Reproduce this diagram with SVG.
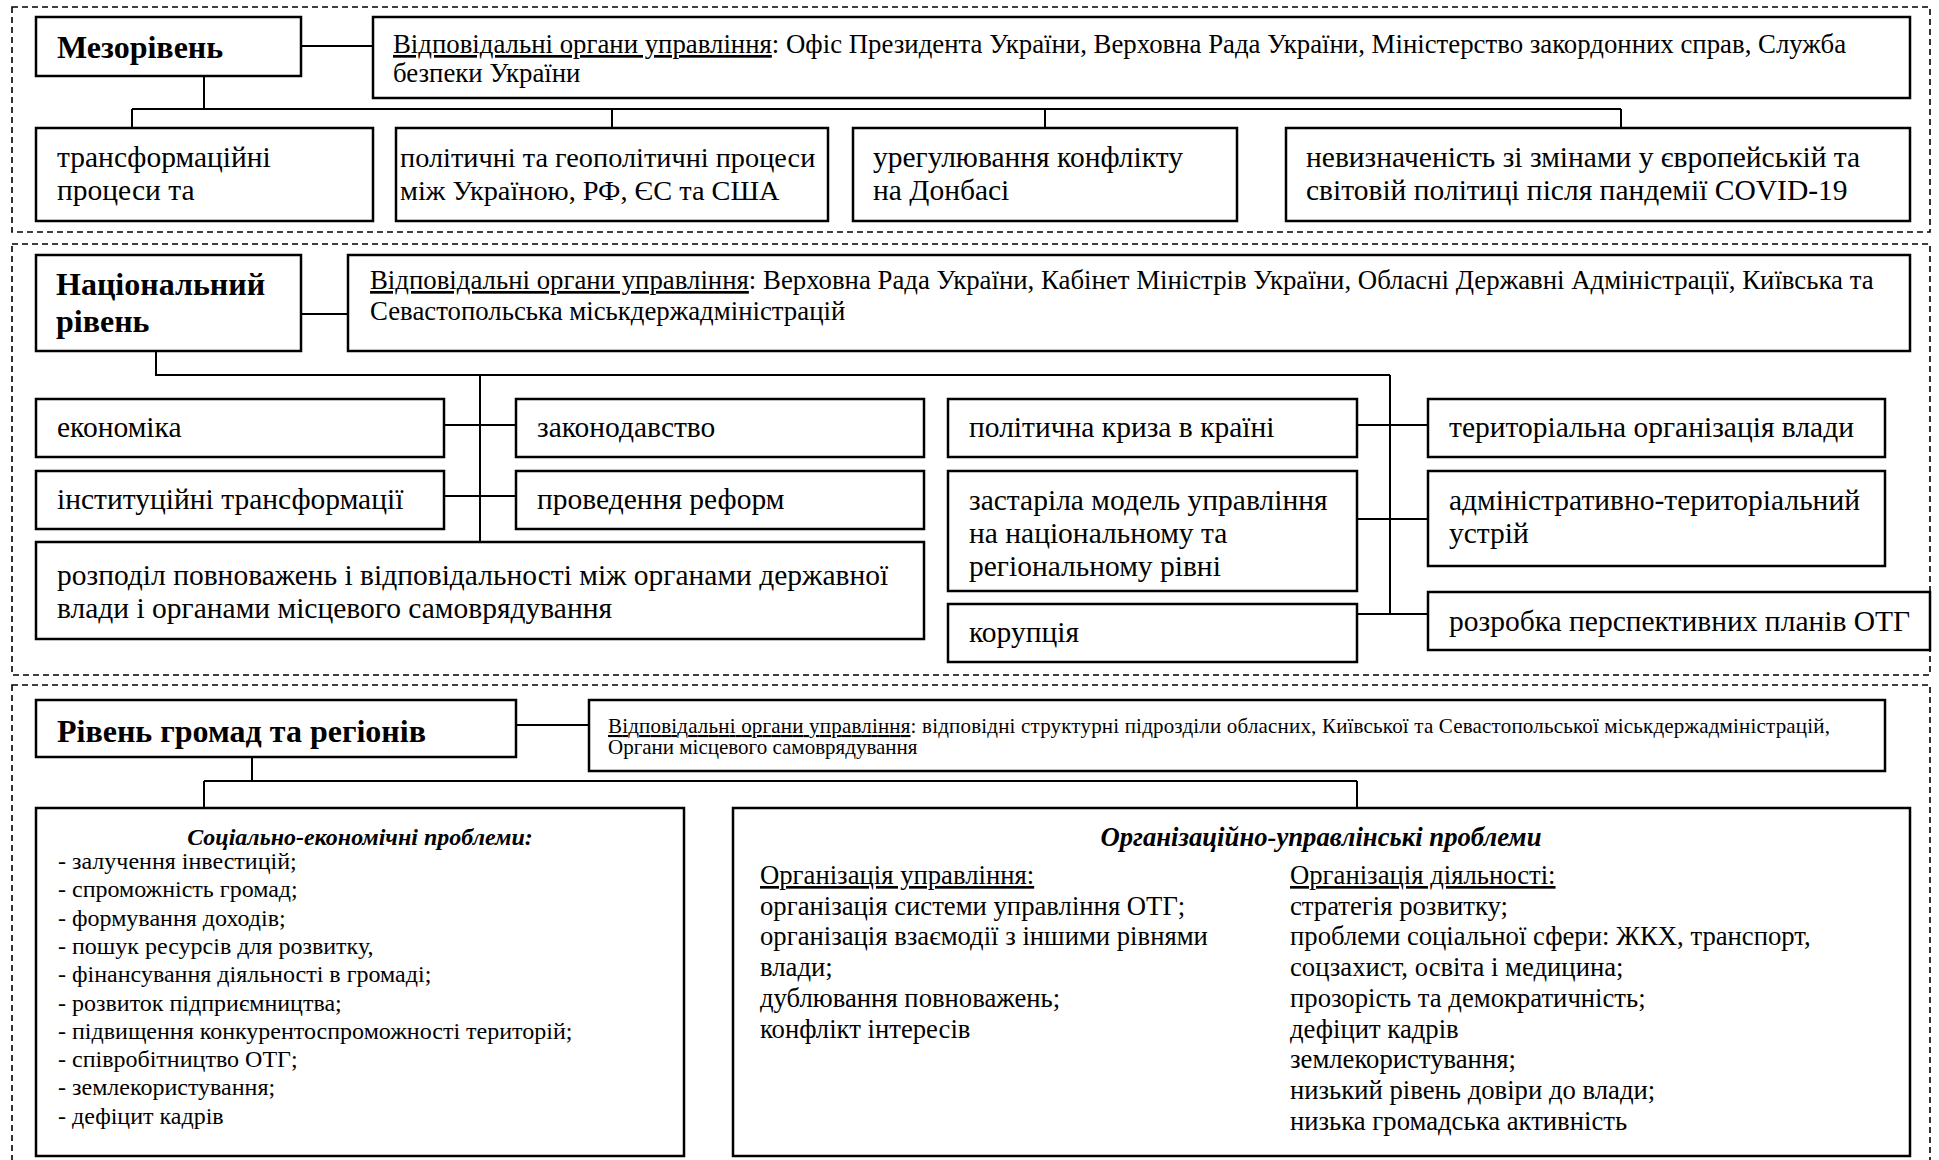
<svg xmlns="http://www.w3.org/2000/svg" width="1939" height="1160" viewBox="0 0 1939 1160">
  <style>
    text { font-family: "Liberation Serif", "Times New Roman", serif; fill: #000; }
    .box { fill: #fff; stroke: #000; stroke-width: 2.5; }
    .zone { fill: none; stroke: #000; stroke-width: 1.6; stroke-dasharray: 6 4; }
    .wire { fill: none; stroke: #000; stroke-width: 2; }
    .head { font-size: 32px; font-weight: bold; }
    .node { font-size: 29.5px; }
    .node-s { font-size: 28.3px; }
    .resp { font-size: 26.8px; }
    .resp-s { font-size: 21px; }
    .list { font-size: 24px; }
    .col { font-size: 26.7px; }
    .ttl { font-weight: bold; font-style: italic; }
    .u { text-decoration: underline; }
  </style>

  <!-- level frames -->
  <g id="zones">
    <rect class="zone" x="12" y="7" width="1918" height="225"/>
    <rect class="zone" x="12" y="244" width="1918" height="431"/>
    <rect class="zone" x="12" y="685" width="1918" height="490"/>
  </g>

  <!-- connectors -->
  <g id="connectors">
    <!-- meso level -->
    <path class="wire" d="M301 46 H373"/>
    <path class="wire" d="M204 76 V109"/>
    <path class="wire" d="M132 109 H1621"/>
    <path class="wire" d="M132 109 V128 M612 109 V128 M1045 109 V128 M1621 109 V128"/>
    <!-- national level -->
    <path class="wire" d="M301 314 H348"/>
    <path class="wire" d="M156 351 V375 H1390"/>
    <path class="wire" d="M480 375 V542"/>
    <path class="wire" d="M1390 375 V614"/>
    <path class="wire" d="M444 425 H516 M444 496 H516"/>
    <path class="wire" d="M1357 425 H1428 M1357 519 H1428 M1357 614 H1428"/>
    <!-- community level -->
    <path class="wire" d="M516 725 H589"/>
    <path class="wire" d="M252 757 V781"/>
    <path class="wire" d="M204 781 H1357"/>
    <path class="wire" d="M204 781 V808 M1357 781 V808"/>
  </g>

  <!-- meso level nodes -->
  <g id="meso">
    <rect class="box" x="36" y="17" width="265" height="59"/>
    <text class="head" x="57" y="58">Мезорівень</text>
  </g>
  <g id="meso-bodies">
    <rect class="box" x="373" y="17" width="1537" height="81"/>
    <text class="resp" x="393" y="53"><tspan class="u">Відповідальні органи управління</tspan>: Офіс Президента України, Верховна Рада України, Міністерство закордонних справ, Служба</text>
    <text class="resp" x="393" y="82">безпеки України</text>
  </g>
  <g id="meso-transform">
    <rect class="box" x="36" y="128" width="337" height="93"/>
    <text class="node" x="57" y="167">трансформаційні</text>
    <text class="node" x="57" y="200">процеси та</text>
  </g>
  <g id="meso-geopolitics">
    <rect class="box" x="396" y="128" width="432" height="93"/>
    <text class="node-s" x="400" y="167">політичні та геополітичні процеси</text>
    <text class="node-s" x="400" y="200">між Україною, РФ, ЄС та США</text>
  </g>
  <g id="meso-donbas">
    <rect class="box" x="853" y="128" width="384" height="93"/>
    <text class="node" x="873" y="167">урегулювання конфлікту</text>
    <text class="node" x="873" y="200">на Донбасі</text>
  </g>
  <g id="meso-uncertainty">
    <rect class="box" x="1286" y="128" width="624" height="93"/>
    <text class="node" x="1306" y="167">невизначеність зі змінами у європейській та</text>
    <text class="node" x="1306" y="200">світовій політиці після пандемії COVID-19</text>
  </g>

  <!-- national level nodes -->
  <g id="national">
    <rect class="box" x="36" y="255" width="265" height="96"/>
    <text class="head" x="56" y="295">Національний</text>
    <text class="head" x="56" y="332">рівень</text>
  </g>
  <g id="national-bodies">
    <rect class="box" x="348" y="255" width="1562" height="96"/>
    <text class="resp" x="370" y="289"><tspan class="u">Відповідальні органи управління</tspan>: Верховна Рада України, Кабінет Міністрів України, Обласні Державні Адміністрації, Київська та</text>
    <text class="resp" x="370" y="320">Севастопольська міськдержадміністрацій</text>
  </g>
  <g id="nat-economy">
    <rect class="box" x="36" y="399" width="408" height="58"/>
    <text class="node" x="57" y="437">економіка</text>
  </g>
  <g id="nat-law">
    <rect class="box" x="516" y="399" width="408" height="58"/>
    <text class="node" x="537" y="437">законодавство</text>
  </g>
  <g id="nat-institutions">
    <rect class="box" x="36" y="471" width="408" height="58"/>
    <text class="node" x="57" y="509">інституційні трансформації</text>
  </g>
  <g id="nat-reforms">
    <rect class="box" x="516" y="471" width="408" height="58"/>
    <text class="node" x="537" y="509">проведення реформ</text>
  </g>
  <g id="nat-powers">
    <rect class="box" x="36" y="542" width="888" height="97"/>
    <text class="node" x="57" y="585">розподіл повноважень і відповідальності між органами державної</text>
    <text class="node" x="57" y="618">влади і органами місцевого самоврядування</text>
  </g>
  <g id="nat-crisis">
    <rect class="box" x="948" y="399" width="409" height="58"/>
    <text class="node" x="969" y="437">політична криза в країні</text>
  </g>
  <g id="nat-model">
    <rect class="box" x="948" y="471" width="409" height="120"/>
    <text class="node" x="969" y="510">застаріла модель управління</text>
    <text class="node" x="969" y="543">на національному та</text>
    <text class="node" x="969" y="576">регіональному рівні</text>
  </g>
  <g id="nat-corruption">
    <rect class="box" x="948" y="604" width="409" height="58"/>
    <text class="node" x="969" y="642">корупція</text>
  </g>
  <g id="nat-territory">
    <rect class="box" x="1428" y="399" width="457" height="58"/>
    <text class="node" x="1449" y="437">територіальна організація влади</text>
  </g>
  <g id="nat-admin">
    <rect class="box" x="1428" y="471" width="457" height="95"/>
    <text class="node" x="1449" y="510">адміністративно-територіальний</text>
    <text class="node" x="1449" y="543">устрій</text>
  </g>
  <g id="nat-plans">
    <rect class="box" x="1428" y="592" width="502" height="58"/>
    <text class="node" x="1449" y="631">розробка перспективних планів ОТГ</text>
  </g>

  <!-- community and regional level nodes -->
  <g id="community">
    <rect class="box" x="36" y="700" width="480" height="57"/>
    <text class="head" x="57" y="742">Рівень громад та регіонів</text>
  </g>
  <g id="community-bodies">
    <rect class="box" x="589" y="700" width="1296" height="71"/>
    <text class="resp-s" x="608" y="733" textLength="1222" lengthAdjust="spacing"><tspan class="u">Відповідальні органи управління</tspan>: відповідні структурні підрозділи обласних, Київської та Севастопольської міськдержадміністрацій,</text>
    <text class="resp-s" x="608" y="754">Органи місцевого самоврядування</text>
  </g>
  <g id="socio-economic">
    <rect class="box" x="36" y="808" width="648" height="348"/>
    <text class="list ttl" x="360" y="845" text-anchor="middle">Соціально-економічні проблеми:</text>
    <text class="list" x="58" y="869">- залучення інвестицій;</text>
    <text class="list" x="58" y="897.3">- спроможність громад;</text>
    <text class="list" x="58" y="925.6">- формування доходів;</text>
    <text class="list" x="58" y="953.9">- пошук ресурсів для розвитку,</text>
    <text class="list" x="58" y="982.2">- фінансування діяльності в громаді;</text>
    <text class="list" x="58" y="1010.5">- розвиток підприємництва;</text>
    <text class="list" x="58" y="1038.8">- підвищення конкурентоспроможності територій;</text>
    <text class="list" x="58" y="1067.1">- співробітництво ОТГ;</text>
    <text class="list" x="58" y="1095.4">- землекористування;</text>
    <text class="list" x="58" y="1123.7">- дефіцит кадрів</text>
  </g>
  <g id="organisational">
    <rect class="box" x="733" y="808" width="1177" height="348"/>
    <text class="col ttl" x="1321" y="846" text-anchor="middle">Організаційно-управлінські проблеми</text>
    <text class="col u" x="760" y="884">Організація управління:</text>
    <text class="col" x="760" y="914.7">організація системи управління ОТГ;</text>
    <text class="col" x="760" y="945.4">організація взаємодії з іншими рівнями</text>
    <text class="col" x="760" y="976.1">влади;</text>
    <text class="col" x="760" y="1006.8">дублювання повноважень;</text>
    <text class="col" x="760" y="1037.5">конфлікт інтересів</text>
    <text class="col u" x="1290" y="884">Організація діяльності:</text>
    <text class="col" x="1290" y="914.7">стратегія розвитку;</text>
    <text class="col" x="1290" y="945.4">проблеми соціальної сфери: ЖКХ, транспорт,</text>
    <text class="col" x="1290" y="976.1">соцзахист, освіта і медицина;</text>
    <text class="col" x="1290" y="1006.8">прозорість та демократичність;</text>
    <text class="col" x="1290" y="1037.5">дефіцит кадрів</text>
    <text class="col" x="1290" y="1068.2">землекористування;</text>
    <text class="col" x="1290" y="1098.9">низький рівень довіри до влади;</text>
    <text class="col" x="1290" y="1129.6">низька громадська активність</text>
  </g>
</svg>
